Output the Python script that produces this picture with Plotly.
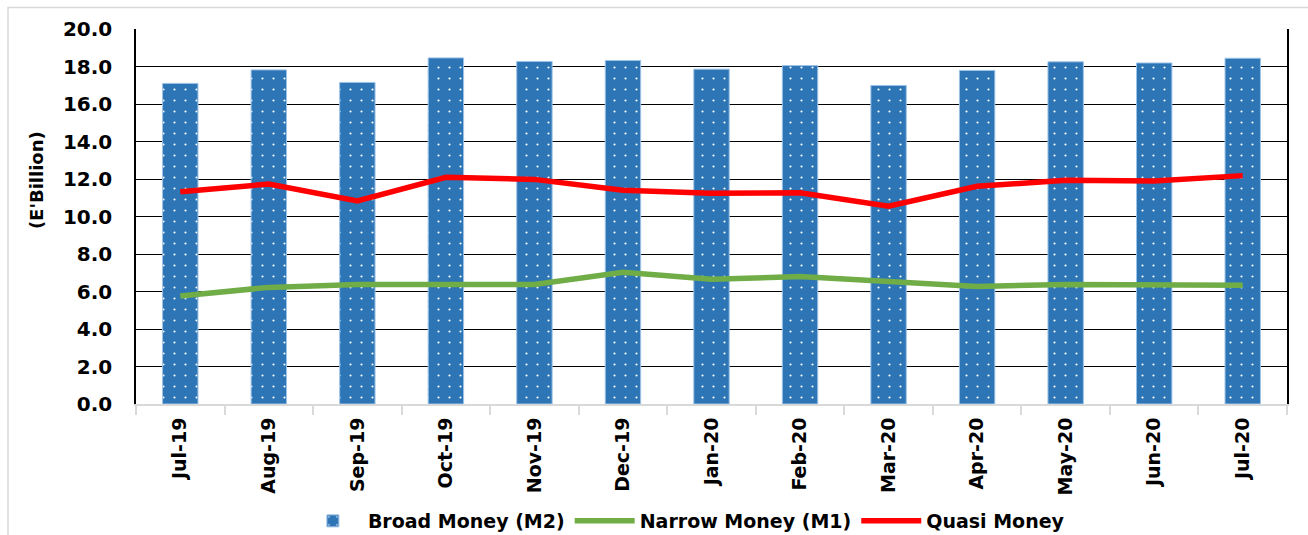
import plotly.graph_objects as go

categories = ["Jul-19", "Aug-19", "Sep-19", "Oct-19", "Nov-19", "Dec-19", "Jan-20",
              "Feb-20", "Mar-20", "Apr-20", "May-20", "Jun-20", "Jul-20"]
broad_m2 = [17.10, 17.82, 17.15, 18.46, 18.27, 18.32, 17.86, 18.05, 16.99, 17.79, 18.25, 18.19, 18.44]
narrow_m1 = [5.76, 6.22, 6.38, 6.40, 6.38, 7.03, 6.65, 6.80, 6.50, 6.27, 6.37, 6.34, 6.34]
quasi = [11.32, 11.73, 10.83, 12.09, 11.98, 11.40, 11.24, 11.27, 10.55, 11.61, 11.93, 11.89, 12.18]
y_ticks = [0, 2, 4, 6, 8, 10, 12, 14, 16, 18, 20]
y_title = "(E'Billion)"

FONT = "DejaVu Sans"

fig = go.Figure()
fig.add_trace(go.Bar(
    x=categories, y=broad_m2, name="Broad Money (M2)",
    marker=dict(color="#2E75B6",
                line=dict(color="#9DC3E6", width=1),
                pattern=dict(shape=".", fgcolor="white", bgcolor="#2E75B6",
                             size=11, solidity=0.03, fillmode="replace")),
))
fig.add_trace(go.Scatter(
    x=categories, y=narrow_m1, name="Narrow Money (M1)", mode="lines",
    line=dict(color="#70AD47", width=5.5),
))
fig.add_trace(go.Scatter(
    x=categories, y=quasi, name="Quasi Money", mode="lines",
    line=dict(color="#FF0000", width=5.5),
))

fig.update_layout(
    width=1308, height=535,
    margin=dict(l=136, r=21, t=29, b=131, autoexpand=False),
    paper_bgcolor="white", plot_bgcolor="white",
    bargap=0.6,
    font=dict(family=FONT, size=19, color="black", weight="bold"),
    showlegend=True,
    legend=dict(orientation="h", x=0.476, xanchor="center",
                yref="container", y=(535 - 521) / 535, yanchor="middle",
                font=dict(family=FONT, size=19, color="black", weight="bold"),
                itemwidth=60, traceorder="normal", bgcolor="rgba(0,0,0,0)"),
    xaxis=dict(
        type="category", showgrid=False, showline=True, linecolor="#D9D9D9", linewidth=2,
        ticks="outside", tickson="boundaries", ticklen=9, tickcolor="#D9D9D9", tickwidth=2,
        tickangle=-90, tickfont=dict(family=FONT, size=19, color="black", weight="bold"),
        ticklabelstandoff=4, automargin=False,
    ),
    yaxis=dict(
        range=[0, 20], tickvals=y_ticks, tickformat=".1f",
        showgrid=True, gridcolor="black", gridwidth=1.3,
        showline=True, linecolor="black", linewidth=1.5, mirror=True,
        zeroline=False, ticks="", automargin=False,
        tickfont=dict(family=FONT, size=20, color="black", weight="bold"),
        ticklabelstandoff=18,
    ),
    shapes=[dict(type="rect", xref="paper", yref="paper",
                 x0=-0.1112, x1=1.5, y0=-0.6, y1=1.0573,
                 line=dict(color="#D9D9D9", width=1.5), fillcolor="rgba(0,0,0,0)",
                 layer="below")],
    annotations=[dict(text=y_title, xref="paper", yref="paper",
                      x=-0.0869, y=0.597, textangle=-90, showarrow=False,
                      xanchor="center", yanchor="middle",
                      font=dict(family=FONT, size=18, color="black", weight="bold"))],
)

fig.write_html("out.html")
